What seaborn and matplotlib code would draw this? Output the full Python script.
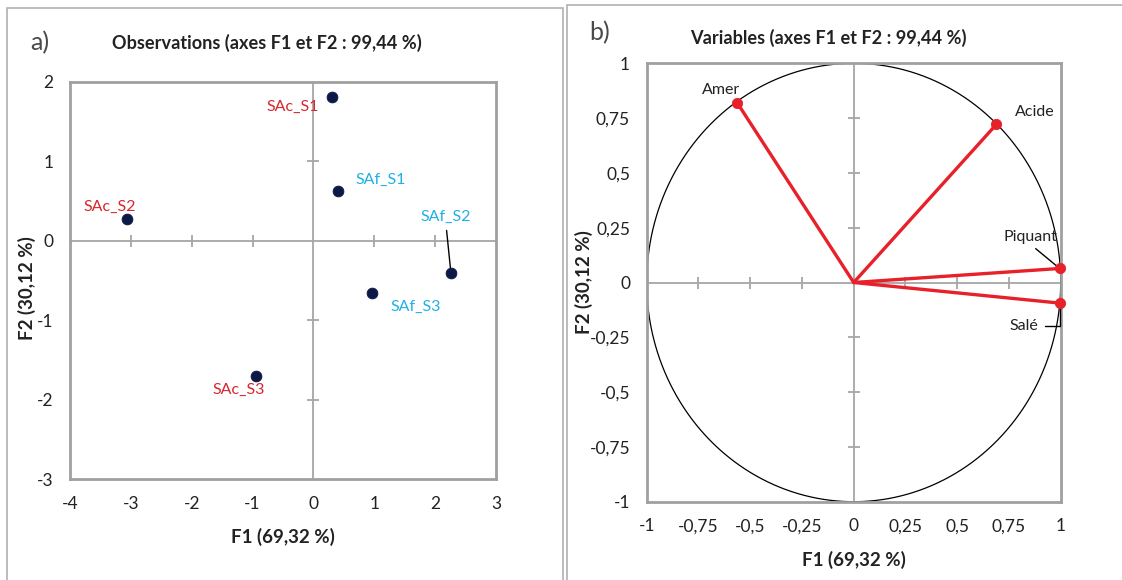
import matplotlib
matplotlib.use('Agg')
import matplotlib.pyplot as plt
import numpy as np
import pandas as pd
import seaborn as sns
from matplotlib.patches import Rectangle

# PCA scores / loadings
obs_labels = ['SAc_S1', 'SAf_S1', 'SAc_S2', 'SAf_S2', 'SAf_S3', 'SAc_S3']
obs_f1 = [0.31, 0.40, -3.06, 2.26, 0.97, -0.95]
obs_f2 = [1.81, 0.63, 0.28, -0.41, -0.66, -1.70]
obs_group = ['SAc', 'SAf', 'SAc', 'SAf', 'SAf', 'SAc']

var_labels = ['Amer', 'Acide', 'Piquant', 'Salé']
var_f1 = [-0.563, 0.689, 0.995, 0.995]
var_f2 = [0.820, 0.721, 0.064, -0.094]

obs_xticks = [-4, -3, -2, -1, 0, 1, 2, 3]
obs_yticks = [-3, -2, -1, 0, 1, 2]
var_ticks = [-1, -0.75, -0.5, -0.25, 0, 0.25, 0.5, 0.75, 1]

title_obs = 'Observations (axes F1 et F2 : 99,44 %)'
title_var = 'Variables (axes F1 et F2 : 99,44 %)'
xlab = 'F1 (69,32 %)'
ylab = 'F2 (30,12 %)'

df_obs = pd.DataFrame({'F1': obs_f1, 'F2': obs_f2, 'label': obs_labels, 'group': obs_group})
df_var = pd.DataFrame({'F1': var_f1, 'F2': var_f2, 'label': var_labels})

sns.set_theme(style='white')
plt.rcParams['font.family'] = ['Lato', 'DejaVu Sans']

FRAME = '#a0a0a0'
ZERO = '#a6a6a6'
RED_TXT = '#d7262e'
CYAN_TXT = '#1fb0e6'
NAVY = '#0c1846'
RED = '#e8202a'
TXT = '#222222'


def comma(v):
    return ('%g' % v).replace('.', ',')


fig = plt.figure(figsize=(11.22, 5.8), dpi=100)

# panel borders
fig.patches.append(Rectangle((7 / 1122, -0.1), 556 / 1122, 1.1 - 8 / 580, transform=fig.transFigure,
                             fill=False, edgecolor='#b0b0b0', linewidth=1.2))
fig.patches.append(Rectangle((567 / 1122, -0.1), 0.6, 1.1 - 5 / 580, transform=fig.transFigure,
                             fill=False, edgecolor='#b0b0b0', linewidth=1.2))


def style_axes(ax, xticks, yticks, xlim, ylim):
    ax.set_xlim(*xlim)
    ax.set_ylim(*ylim)
    ax.set_xticks(xticks)
    ax.set_yticks(yticks)
    ax.set_xticklabels([comma(t) for t in xticks])
    ax.set_yticklabels([comma(t) for t in yticks])
    ax.tick_params(length=0, labelsize=12.5, colors=TXT)
    ax.tick_params(axis='x', pad=12)
    ax.tick_params(axis='y', pad=12)
    for s in ax.spines.values():
        s.set_color(FRAME)
        s.set_linewidth(2)
    ax.axhline(0, color=ZERO, lw=1.3, zorder=1)
    ax.axvline(0, color=ZERO, lw=1.3, zorder=1)
    xt = [t for t in xticks if t not in (0, xlim[0], xlim[1])]
    yt = [t for t in yticks if t not in (0, ylim[0], ylim[1])]
    ax.plot(xt, [0] * len(xt), ls='none', marker='|', ms=9, mew=1.3, color=ZERO, zorder=1)
    ax.plot([0] * len(yt), yt, ls='none', marker='_', ms=9, mew=1.3, color=ZERO, zorder=1)
    ax.set_xlabel(xlab, fontsize=13.5, fontweight='bold', color=TXT)
    ax.set_ylabel(ylab, fontsize=13.5, fontweight='bold', color=TXT)


# ---- a) observations
ax1 = fig.add_axes([70 / 1122, 1 - 479 / 580, 426 / 1122, 397 / 580])
sns.scatterplot(data=df_obs, x='F1', y='F2', color=NAVY, s=60, edgecolor=NAVY, ax=ax1, zorder=3)
style_axes(ax1, obs_xticks, obs_yticks, (-4, 3), (-3, 2))
ax1.xaxis.set_label_coords(0.5, -0.123)
ax1.yaxis.set_label_coords(-0.08, 0.48)

obs_off = {'SAc_S1': (-40, -10), 'SAf_S1': (43, 11), 'SAc_S2': (-17, 12),
           'SAf_S2': (-5, 56), 'SAf_S3': (43, -14), 'SAc_S3': (-17, -14)}
for _, r in df_obs.iterrows():
    col = RED_TXT if r['group'] == 'SAc' else CYAN_TXT
    kw = {}
    if r['label'] == 'SAf_S2':
        kw['arrowprops'] = dict(arrowstyle='-', color='black', lw=1, relpos=(0.5, 0), shrinkA=2, shrinkB=4)
    ax1.annotate(r['label'], (r['F1'], r['F2']), xytext=obs_off[r['label']], textcoords='offset pixels',
                 ha='center', va='center', fontsize=11.5, color=col, **kw)

fig.text(267 / 1122, 1 - 43 / 580, title_obs, fontsize=13.1, fontweight='bold', color=TXT,
         ha='center', va='center')
fig.text(40 / 1122, 1 - 43 / 580, 'a)', fontsize=18, color='#4a4a4a', ha='center', va='center')

# ---- b) variables
ax2 = fig.add_axes([646.7 / 1122, 1 - 501.7 / 580, 414 / 1122, 438.4 / 580])
theta = np.linspace(0, 2 * np.pi, 400)
ax2.plot(np.cos(theta), np.sin(theta), color='black', lw=0.9, zorder=2)
for _, r in df_var.iterrows():
    ax2.plot([0, r['F1']], [0, r['F2']], color=RED, lw=2.4, zorder=3)
sns.scatterplot(data=df_var, x='F1', y='F2', color=RED, s=55, edgecolor=RED, ax=ax2, zorder=4, clip_on=False)
style_axes(ax2, var_ticks, var_ticks, (-1, 1), (-1, 1))
ax2.xaxis.set_label_coords(0.5, -0.1125)
ax2.yaxis.set_label_coords(-0.13, 0.5)

var_off = {'Amer': (-16, 13), 'Acide': (38, 12), 'Piquant': (-29, 31), 'Salé': (-36, -23)}
for _, r in df_var.iterrows():
    kw = {}
    if r['label'] == 'Piquant':
        kw['arrowprops'] = dict(arrowstyle='-', color='black', lw=1, relpos=(0.5, 0), shrinkA=1, shrinkB=3)
    if r['label'] == 'Salé':
        kw['arrowprops'] = dict(arrowstyle='-', color='black', lw=1, relpos=(1, 0.5), shrinkA=3, shrinkB=3,
                                connectionstyle='angle,angleA=0,angleB=90,rad=0')
    ax2.annotate(r['label'], (r['F1'], r['F2']), xytext=var_off[r['label']], textcoords='offset pixels',
                 ha='center', va='center', fontsize=11.5, color=TXT, **kw)

fig.text(828 / 1122, 1 - 38 / 580, title_var, fontsize=13.1, fontweight='bold', color=TXT,
         ha='center', va='center')
fig.text(600 / 1122, 1 - 33 / 580, 'b)', fontsize=18, color='#4a4a4a', ha='center', va='center')

fig.savefig('out.png', dpi=100)
